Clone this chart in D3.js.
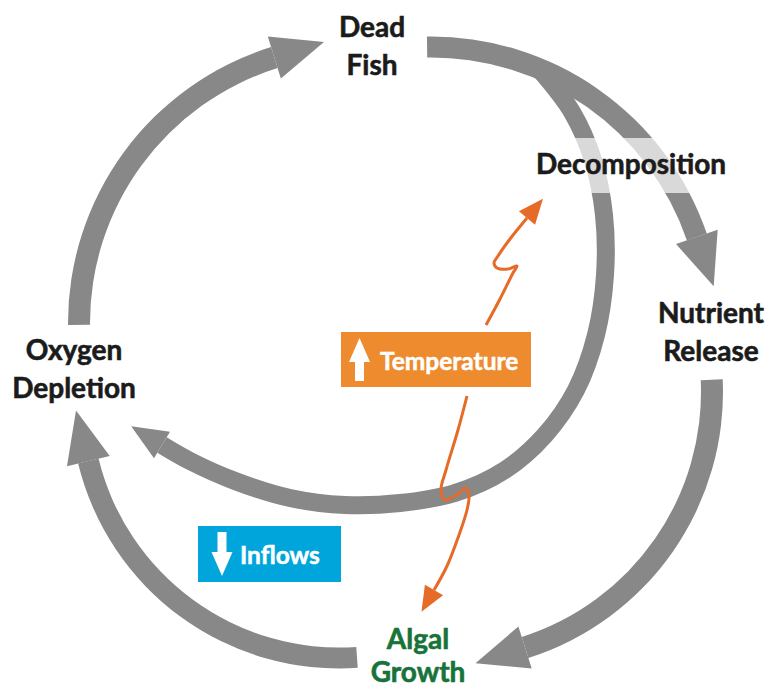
<!DOCTYPE html>
<html>
<head>
<meta charset="utf-8">
<script src="https://cdn.jsdelivr.net/npm/d3@7"></script>
<style>
  body { margin: 0; background: #fff; }
  svg { display: block; }
  .label { font-family: Lato, "Open Sans", sans-serif; font-weight: 700; }
</style>
</head>
<body>
<div id="chart"></div>
<script>
// stages of the fish-kill cycle (lines of each label)
const stages = [["Dead", "Fish"], ["Decomposition"], ["Nutrient", "Release"], ["Algal", "Growth"], ["Oxygen", "Depletion"]];
const stageColors = ["#1b1b1b", "#1b1b1b", "#1b1b1b", "#17733a", "#1b1b1b"];

// outside drivers
const drivers = ["Temperature", "Inflows"];
const driverDir = ["up", "down"];
const driverColors = ["#ee8b2f", "#00a5db"];

// outer cycle links, angles in degrees (0 = 12 o'clock, clockwise)
const cycleFrom = ["Oxygen Depletion", "Dead Fish", "Nutrient Release", "Algal Growth"];
const cycleTo = ["Dead Fish", "Nutrient Release", "Algal Growth", "Oxygen Depletion"];
const cycleStart = [-90.4, -0.8, 87.4, 176];
const cycleEnd = [-17.3, 71.1, 162.4, 256.3];

const W = 768, H = 690;
const grey = "#888888";
const orange = "#e56b27";

const svg = d3.select("#chart").append("svg")
    .attr("width", W)
    .attr("height", H);

const rad = d3.scaleLinear().domain([0, 360]).range([0, 2 * Math.PI]);
const line = d3.line();

// geometry of each outer arc
const arcGeom = [
    {cx: 357, cy: 323, r: 278, w: 22},
    {cx: 431, cy: 328, r: 281, w: 21},
    {cx: 444, cy: 392, r: 268, w: 22},
    {cx: 339, cy: 400, r: 258, w: 21}
];

// shaft of the short-cut arrow (Dead Fish -> Oxygen Depletion)
const innerPts = [[540, 70], [572, 112], [593, 160], [604, 215], [605, 275], [596, 335], [576, 390],
    [545, 435], [505, 470], [455, 493], [400, 503], [345, 505], [290, 498], [235, 481], [190, 461], [162, 445]];

// squiggles from the Temperature box
const tempUp = [[486, 325], [500, 299], [513, 273], [517, 266], [508, 269], [497, 268], [494, 263],
    [498, 256], [510, 239], [527, 218]];
const tempDown = [[467, 396], [458, 430], [446, 470], [441, 490], [445, 500], [458, 494], [466, 488],
    [469, 496], [467, 510], [459, 535], [447, 566], [434, 590]];

function head(p, d, len, half) {
    const n = [-d[1], d[0]];
    return line([[p[0] + n[0] * half, p[1] + n[1] * half],
                 [p[0] + d[0] * len, p[1] + d[1] * len],
                 [p[0] - n[0] * half, p[1] - n[1] * half]]) + "Z";
}

// direction at end of a drawn path
function endDir(node) {
    const L = node.getTotalLength();
    const a = node.getPointAtLength(L - 3), b = node.getPointAtLength(L);
    const dx = b.x - a.x, dy = b.y - a.y, m = Math.hypot(dx, dy);
    return {p: [b.x, b.y], d: [dx / m, dy / m]};
}

function curvedArrow(pts, width, color, len, half) {
    const sh = svg.append("path")
        .attr("d", d3.line().curve(d3.curveCatmullRom.alpha(0.5))(pts))
        .attr("fill", "none")
        .attr("stroke", color)
        .attr("stroke-width", width);
    const e = endDir(sh.node());
    svg.append("path")
        .attr("d", head(e.p, e.d, len, half))
        .attr("fill", color);
}

// inner short-cut first, it sits under the Dead Fish arc
curvedArrow(innerPts, 18, grey, 36, 15.5);

// outer cycle
const arcs = cycleFrom.map((f, i) => ({from: f, to: cycleTo[i], a0: cycleStart[i], a1: cycleEnd[i], g: arcGeom[i]}));

const outer = svg.append("g").attr("class", "cycle");
arcs.forEach(a => {
    const g = a.g;
    outer.append("path")
        .attr("transform", `translate(${g.cx},${g.cy})`)
        .attr("d", d3.arc()({innerRadius: g.r - g.w / 2, outerRadius: g.r + g.w / 2,
            startAngle: rad(a.a0), endAngle: rad(a.a1)}))
        .attr("fill", grey);
    const t = rad(a.a1);
    const p = [g.cx + g.r * Math.sin(t), g.cy - g.r * Math.cos(t)];
    outer.append("path")
        .attr("d", head(p, [Math.cos(t), Math.sin(t)], 52, 22))
        .attr("fill", grey);
});

// light band behind the Decomposition label
svg.append("rect")
    .attr("x", 560).attr("y", 138)
    .attr("width", 170).attr("height", 55)
    .attr("fill", "#fff")
    .attr("opacity", 0.68);

// stage labels
const labelPos = [
    {x: 372, y: 37, dy: 37.5}, {x: 631, y: 174, dy: 0}, {x: 711, y: 323, dy: 37.5},
    {x: 418, y: 649, dy: 33}, {x: 74, y: 360, dy: 37.5}
];
stages.forEach((s, i) => {
    const t = svg.append("text")
        .attr("class", "label")
        .attr("text-anchor", "middle")
        .attr("font-size", 28)
        .attr("fill", stageColors[i])
        .attr("stroke", stageColors[i])
        .attr("stroke-width", 0.6);
    s.forEach((ln, j) => {
        t.append("tspan")
            .attr("x", labelPos[i].x)
            .attr("y", labelPos[i].y + j * labelPos[i].dy)
            .text(ln);
    });
});

// driver boxes
const boxPos = [
    {x: 341, y: 332, w: 190, h: 55, ax: 18.5, tx: 39},
    {x: 198, y: 526, w: 143, h: 56, ax: 24, tx: 42}
];
drivers.forEach((d, i) => {
    const b = boxPos[i];
    svg.append("rect")
        .attr("x", b.x).attr("y", b.y)
        .attr("width", b.w).attr("height", b.h)
        .attr("fill", driverColors[i]);
    // white arrow in the box
    const ax = b.x + b.ax, top = b.y + 6, bot = b.y + b.h - 6;
    const up = driverDir[i] === "up";
    const hh = 24, hw = 10.5, sw = 4.5;
    const pts = up
        ? [[ax, top], [ax + hw, top + hh], [ax + sw, top + hh], [ax + sw, bot], [ax - sw, bot], [ax - sw, top + hh], [ax - hw, top + hh]]
        : [[ax, bot], [ax + hw, bot - hh], [ax + sw, bot - hh], [ax + sw, top], [ax - sw, top], [ax - sw, bot - hh], [ax - hw, bot - hh]];
    svg.append("path").attr("d", line(pts) + "Z").attr("fill", "#fff");
    svg.append("text")
        .attr("class", "label")
        .attr("x", b.x + b.tx)
        .attr("y", b.y + 38)
        .attr("font-size", 24.5)
        .attr("fill", "#fff")
        .attr("stroke", "#fff")
        .attr("stroke-width", 0.5)
        .text(d);
});

// Temperature squiggles
curvedArrow(tempUp, 3, orange, 25, 10.5);
curvedArrow(tempDown, 3, orange, 25, 10.5);
</script>
</body>
</html>
